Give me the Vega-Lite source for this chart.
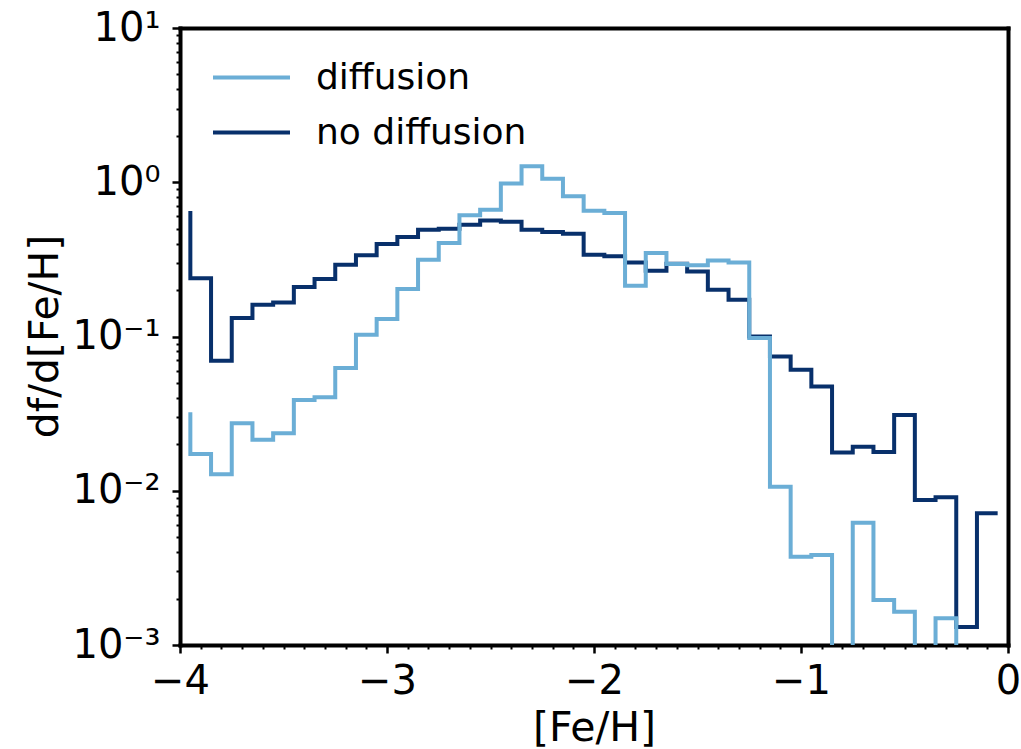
{
  "$schema": "https://vega.github.io/schema/vega-lite/v6.json",
  "width": 828,
  "height": 617,
  "autosize": {"type": "none"},
  "padding": {"left": 180, "top": 28, "right": 13, "bottom": 104},
  "background": "white",
  "config": {"view": {"stroke": null}, "font": "DejaVu Sans", "axis": {"domainWidth": 4, "domainColor": "black"}},
  "data": {"values": [
    {"x": -3.95, "y": 0.65, "s": "no diffusion"},
    {"x": -3.85, "y": 0.239, "s": "no diffusion"},
    {"x": -3.75, "y": 0.0695, "s": "no diffusion"},
    {"x": -3.65, "y": 0.1316, "s": "no diffusion"},
    {"x": -3.55, "y": 0.1606, "s": "no diffusion"},
    {"x": -3.45, "y": 0.166, "s": "no diffusion"},
    {"x": -3.35, "y": 0.209, "s": "no diffusion"},
    {"x": -3.25, "y": 0.236, "s": "no diffusion"},
    {"x": -3.15, "y": 0.292, "s": "no diffusion"},
    {"x": -3.05, "y": 0.336, "s": "no diffusion"},
    {"x": -2.95, "y": 0.398, "s": "no diffusion"},
    {"x": -2.85, "y": 0.442, "s": "no diffusion"},
    {"x": -2.75, "y": 0.492, "s": "no diffusion"},
    {"x": -2.65, "y": 0.5, "s": "no diffusion"},
    {"x": -2.55, "y": 0.531, "s": "no diffusion"},
    {"x": -2.45, "y": 0.566, "s": "no diffusion"},
    {"x": -2.35, "y": 0.555, "s": "no diffusion"},
    {"x": -2.25, "y": 0.492, "s": "no diffusion"},
    {"x": -2.15, "y": 0.476, "s": "no diffusion"},
    {"x": -2.05, "y": 0.464, "s": "no diffusion"},
    {"x": -1.95, "y": 0.339, "s": "no diffusion"},
    {"x": -1.85, "y": 0.331, "s": "no diffusion"},
    {"x": -1.75, "y": 0.302, "s": "no diffusion"},
    {"x": -1.65, "y": 0.267, "s": "no diffusion"},
    {"x": -1.55, "y": 0.296, "s": "no diffusion"},
    {"x": -1.45, "y": 0.264, "s": "no diffusion"},
    {"x": -1.35, "y": 0.201, "s": "no diffusion"},
    {"x": -1.25, "y": 0.173, "s": "no diffusion"},
    {"x": -1.15, "y": 0.1, "s": "no diffusion"},
    {"x": -1.05, "y": 0.0742, "s": "no diffusion"},
    {"x": -0.95, "y": 0.0608, "s": "no diffusion"},
    {"x": -0.85, "y": 0.0474, "s": "no diffusion"},
    {"x": -0.75, "y": 0.01767, "s": "no diffusion"},
    {"x": -0.65, "y": 0.0193, "s": "no diffusion"},
    {"x": -0.55, "y": 0.0178, "s": "no diffusion"},
    {"x": -0.45, "y": 0.031, "s": "no diffusion"},
    {"x": -0.35, "y": 0.00871, "s": "no diffusion"},
    {"x": -0.25, "y": 0.00907, "s": "no diffusion"},
    {"x": -0.15, "y": 0.00131, "s": "no diffusion"},
    {"x": -0.05, "y": 0.00714, "s": "no diffusion"},
    {"x": -3.95, "y": 0.0323, "s": "diffusion"},
    {"x": -3.85, "y": 0.01733, "s": "diffusion"},
    {"x": -3.75, "y": 0.0128, "s": "diffusion"},
    {"x": -3.65, "y": 0.0274, "s": "diffusion"},
    {"x": -3.55, "y": 0.0214, "s": "diffusion"},
    {"x": -3.45, "y": 0.0236, "s": "diffusion"},
    {"x": -3.35, "y": 0.0388, "s": "diffusion"},
    {"x": -3.25, "y": 0.0404, "s": "diffusion"},
    {"x": -3.15, "y": 0.0624, "s": "diffusion"},
    {"x": -3.05, "y": 0.1026, "s": "diffusion"},
    {"x": -2.95, "y": 0.1297, "s": "diffusion"},
    {"x": -2.85, "y": 0.203, "s": "diffusion"},
    {"x": -2.75, "y": 0.315, "s": "diffusion"},
    {"x": -2.65, "y": 0.404, "s": "diffusion"},
    {"x": -2.55, "y": 0.61, "s": "diffusion"},
    {"x": -2.45, "y": 0.664, "s": "diffusion"},
    {"x": -2.35, "y": 0.98, "s": "diffusion"},
    {"x": -2.25, "y": 1.268, "s": "diffusion"},
    {"x": -2.15, "y": 1.055, "s": "diffusion"},
    {"x": -2.05, "y": 0.81, "s": "diffusion"},
    {"x": -1.95, "y": 0.654, "s": "diffusion"},
    {"x": -1.85, "y": 0.632, "s": "diffusion"},
    {"x": -1.75, "y": 0.213, "s": "diffusion"},
    {"x": -1.65, "y": 0.348, "s": "diffusion"},
    {"x": -1.55, "y": 0.295, "s": "diffusion"},
    {"x": -1.45, "y": 0.29, "s": "diffusion"},
    {"x": -1.35, "y": 0.311, "s": "diffusion"},
    {"x": -1.25, "y": 0.302, "s": "diffusion"},
    {"x": -1.15, "y": 0.0977, "s": "diffusion"},
    {"x": -1.05, "y": 0.01063, "s": "diffusion"},
    {"x": -0.95, "y": 0.003735, "s": "diffusion"},
    {"x": -0.85, "y": 0.003831, "s": "diffusion"},
    {"x": -0.75, "y": 0.00001, "s": "diffusion"},
    {"x": -0.65, "y": 0.00621, "s": "diffusion"},
    {"x": -0.55, "y": 0.001955, "s": "diffusion"},
    {"x": -0.45, "y": 0.00164, "s": "diffusion"},
    {"x": -0.35, "y": 0.00001, "s": "diffusion"},
    {"x": -0.25, "y": 0.00149, "s": "diffusion"},
    {"x": -0.15, "y": 0.00001, "s": "diffusion"},
    {"x": -0.05, "y": 0.00001, "s": "diffusion"}
  ]},
  "encoding": {
    "color": {
      "field": "s", "type": "nominal",
      "scale": {"domain": ["diffusion", "no diffusion"], "range": ["#6baed6", "#08306b"]},
      "legend": {
        "orient": "none",
        "legendX": 50,
        "legendY": 28,
        "title": null,
        "padding": 0,
        "symbolType": "M-2,0H2",
        "symbolSize": 1482,
        "symbolStrokeWidth": 4,
        "labelFont": "DejaVu Sans",
        "labelFontSize": 36,
        "labelColor": "black",
        "labelOffset": 43,
        "labelLimit": 0,
        "rowPadding": 15
      }
    }
  },
  "layer": [
    {
      "transform": [{"filter": "datum.s === 'no diffusion'"}],
      "mark": {"type": "line", "interpolate": "step-before", "strokeWidth": 4, "clip": true},
      "encoding": {
        "x": {
          "field": "x", "type": "quantitative",
          "scale": {"domain": [-4, 0], "nice": false, "zero": false},
          "axis": {
            "values": [-4, -3.9, -3.8, -3.7, -3.6, -3.5, -3.4, -3.3, -3.2, -3.1, -3, -2.9, -2.8, -2.7, -2.6, -2.5, -2.4, -2.3, -2.2, -2.1, -2, -1.9, -1.8, -1.7, -1.6, -1.5, -1.4, -1.3, -1.2, -1.1, -1, -0.9, -0.8, -0.7, -0.6, -0.5, -0.4, -0.3, -0.2, -0.1, 0],
            "labelExpr": "abs(datum.value - round(datum.value)) < 0.001 ? (round(datum.value) < 0 ? '\u2212' + abs(round(datum.value)) : '0') : ''",
            "labelOverlap": false,
            "labelFlush": false,
            "labelFont": "DejaVu Sans",
            "labelFontSize": 40,
            "labelColor": "black",
            "labelPadding": 8,
            "tickColor": "black",
            "tickSize": {"condition": {"test": "abs(datum.value - round(datum.value)) < 0.001", "value": 8}, "value": 4},
            "tickWidth": {"condition": {"test": "abs(datum.value - round(datum.value)) < 0.001", "value": 2.5}, "value": 2},
            "domain": true,
            "domainColor": "black",
            "domainWidth": 4,
            "domainCap": "square",
            "grid": false,
            "title": "[Fe/H]",
            "titleFont": "DejaVu Sans",
            "titleFontSize": 41,
            "titleFontWeight": "normal",
            "titleColor": "black",
            "titleY": 83,
            "titleBaseline": "middle"
          }
        },
        "y": {
          "field": "y", "type": "quantitative",
          "scale": {"type": "log", "domain": [0.001, 10], "nice": false},
          "axis": {
            "values": [0.001, 0.002, 0.003, 0.004, 0.005, 0.006, 0.007, 0.008, 0.009, 0.01, 0.02, 0.03, 0.04, 0.05, 0.06, 0.07, 0.08, 0.09, 0.1, 0.2, 0.3, 0.4, 0.5, 0.6, 0.7, 0.8, 0.9, 1, 2, 3, 4, 5, 6, 7, 8, 9, 10],
            "labelExpr": "abs(log(datum.value)/LN10 - round(log(datum.value)/LN10)) < 0.001 ? (round(log(datum.value)/LN10) == 1 ? '10\u00b9' : round(log(datum.value)/LN10) == 0 ? '10\u2070' : round(log(datum.value)/LN10) == -1 ? '10\u207b\u00b9' : round(log(datum.value)/LN10) == -2 ? '10\u207b\u00b2' : '10\u207b\u00b3') : ''",
            "labelOverlap": false,
            "labelFlush": false,
            "labelFont": "DejaVu Sans",
            "labelFontSize": 40,
            "labelColor": "black",
            "labelPadding": 12,
            "labelBaseline": "middle",
            "tickColor": "black",
            "tickSize": {"condition": {"test": "abs(log(datum.value)/LN10 - round(log(datum.value)/LN10)) < 0.001", "value": 8}, "value": 4},
            "tickWidth": {"condition": {"test": "abs(log(datum.value)/LN10 - round(log(datum.value)/LN10)) < 0.001", "value": 2.5}, "value": 2},
            "domain": true,
            "domainColor": "black",
            "domainWidth": 4,
            "domainCap": "square",
            "grid": false,
            "title": "df/d[Fe/H]",
            "titleFont": "DejaVu Sans",
            "titleFontSize": 41,
            "titleFontWeight": "normal",
            "titleColor": "black",
            "titleX": -135,
            "titleY": 308,
            "titleAngle": -90,
            "titleAlign": "center",
            "titleBaseline": "middle"
          }
        }
      }
    },
    {
      "transform": [{"filter": "datum.s === 'diffusion'"}],
      "mark": {"type": "line", "interpolate": "step-before", "strokeWidth": 4, "clip": true},
      "encoding": {
        "x": {
          "field": "x", "type": "quantitative",
          "axis": {"orient": "top", "labels": false, "ticks": false, "title": null, "grid": false, "domain": true, "domainColor": "black", "domainWidth": 4, "domainCap": "square"}
        },
        "y": {
          "field": "y", "type": "quantitative",
          "axis": {"orient": "right", "labels": false, "ticks": false, "title": null, "grid": false, "domain": true, "domainColor": "black", "domainWidth": 4, "domainCap": "square"}
        }
      }
    }
  ],
  "resolve": {"axis": {"x": "independent", "y": "independent"}}
}
